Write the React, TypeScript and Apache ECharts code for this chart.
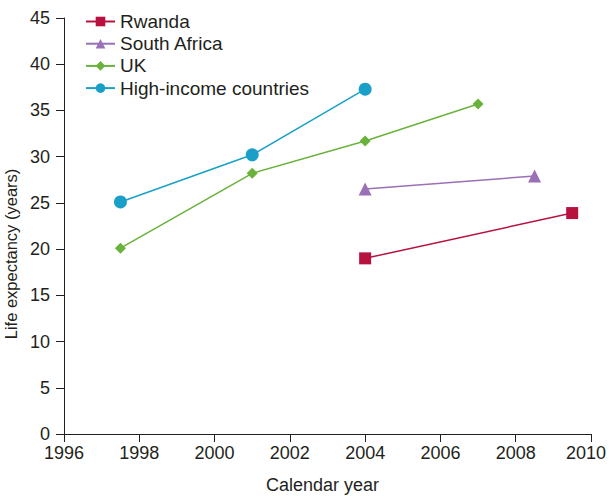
import React, { useEffect, useRef } from "react";
import * as echarts from "echarts";

const seriesNames = ["Rwanda", "South Africa", "UK", "High-income countries"];
const rwanda: [number, number][] = [[2004, 19.0], [2009.5, 23.9]];
const southAfrica: [number, number][] = [[2004, 26.5], [2008.5, 27.9]];
const uk: [number, number][] = [[1997.5, 20.1], [2001, 28.2], [2004, 31.7], [2007, 35.7]];
const highIncome: [number, number][] = [[1997.5, 25.1], [2001, 30.2], [2004, 37.3]];
const colors = ["#b8103f", "#9a70b6", "#69b23c", "#1aa0c8"];
const symbols = ["rect", "triangle", "diamond", "circle"];
const symbolSizes = [12, 13, 11, 13];

export default function App() {
  const ref = useRef<HTMLDivElement>(null);
  useEffect(() => {
    if (!ref.current) return;
    const chart = echarts.init(ref.current, undefined, { renderer: "svg" });
    const datasets = [rwanda, southAfrica, uk, highIncome];
    const font = "'Liberation Sans', Arial, Helvetica, sans-serif";
    const textColor = "#231f20";
    chart.setOption({
      animation: false,
      textStyle: { fontFamily: font },
      grid: {
        left: 64,
        right: 18,
        top: 18,
        bottom: 62,
        containLabel: false,
        outerBoundsMode: "none",
      },
      legend: {
        orient: "vertical",
        left: 80,
        top: 7,
        itemWidth: 29,
        itemHeight: 12,
        itemGap: 3.2,
        textStyle: { fontSize: 19, color: textColor, fontFamily: font },
        data: seriesNames,
      },
      xAxis: {
        type: "value",
        min: 1996,
        max: 2010,
        interval: 2,
        name: "Calendar year",
        nameLocation: "middle",
        nameGap: 42,
        nameTextStyle: { fontSize: 18, color: textColor, padding: [0, 10, 0, 0] },
        axisLine: { show: true, lineStyle: { color: textColor, width: 1 } },
        axisTick: { show: true, length: 8, lineStyle: { color: textColor } },
        axisLabel: {
          fontSize: 18,
          color: textColor,
          margin: 10,
          formatter: (v: number) => (v === 2010 ? "{last|" + v + "}" : String(v)),
          rich: { last: { fontSize: 18, color: textColor, padding: [0, 10, 0, 0] } },
        },
        splitLine: { show: false },
      },
      yAxis: {
        type: "value",
        min: 0,
        max: 45,
        interval: 5,
        name: "Life expectancy (years)",
        nameLocation: "middle",
        nameGap: 27,
        nameTextStyle: { fontSize: 16.5, color: textColor, padding: [0, 56, 0, 0] },
        axisLine: { show: true, lineStyle: { color: textColor, width: 1 } },
        axisTick: { show: true, length: 8, lineStyle: { color: textColor } },
        axisLabel: { fontSize: 18, color: textColor, margin: 14 },
        splitLine: { show: false },
      },
      series: seriesNames.map((name, i) => ({
        name,
        type: "line",
        data: datasets[i],
        symbol: symbols[i],
        symbolSize: symbolSizes[i],
        showAllSymbol: true,
        itemStyle: { color: colors[i] },
        lineStyle: { color: colors[i], width: 1.5 },
      })),
    });
    return () => chart.dispose();
  }, []);
  return <div ref={ref} style={{ width: 609, height: 496, position: "absolute", left: 0, top: 0 }} />;
}
